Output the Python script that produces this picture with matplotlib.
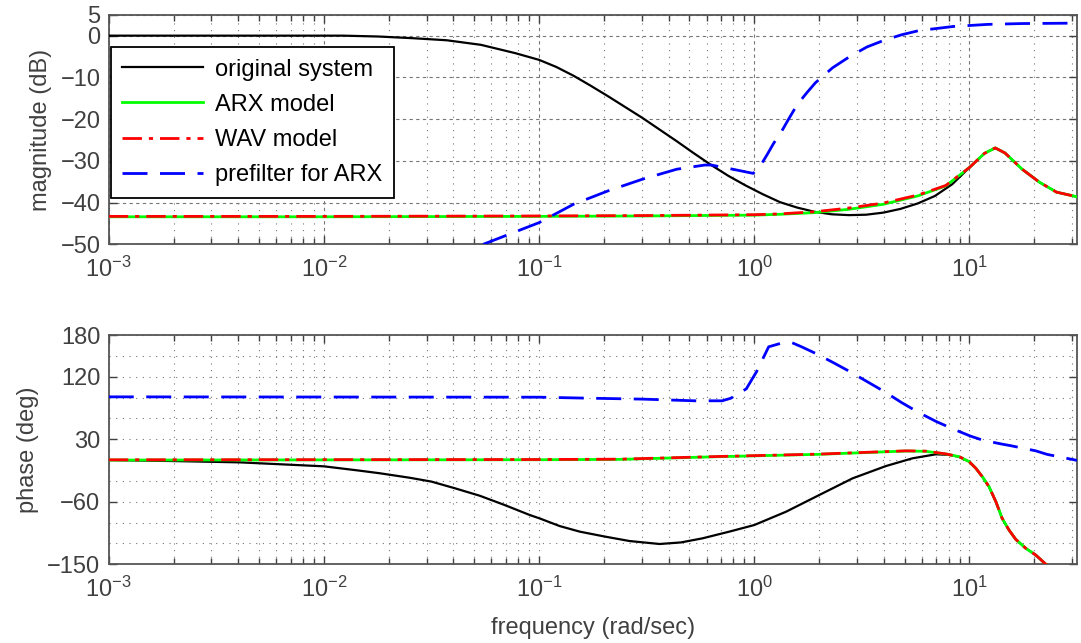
import matplotlib
matplotlib.use('Agg')
import matplotlib.pyplot as plt
from matplotlib.ticker import LogLocator, NullFormatter, MultipleLocator

plt.rcParams['font.family'] = ['Liberation Sans', 'DejaVu Sans']
plt.rcParams['mathtext.fontset'] = 'custom'
plt.rcParams['mathtext.rm'] = 'Liberation Sans'
plt.rcParams['mathtext.it'] = 'Liberation Sans'

# magnitude (dB) at log10(frequency)
orig_mag_f = [-3.0, -2.5, -1.91, -1.75, -1.59, -1.43, -1.27, -1.19, -1.11, -1.0, -0.92, -0.84, -0.76,
              -0.68, -0.6, -0.52, -0.44, -0.36, -0.28, -0.2, -0.12, -0.04, 0.04, 0.12, 0.2, 0.28,
              0.36, 0.44, 0.52, 0.6, 0.68, 0.76, 0.84, 0.92, 1.0, 1.07, 1.12, 1.165, 1.245, 1.325,
              1.405, 1.5]
orig_mag = [0.0, 0.0, 0.0, -0.2, -0.6, -1.1, -2.2, -3.2, -4.2, -5.8, -7.5, -9.6, -12.0,
            -14.5, -17.1, -19.7, -22.5, -25.3, -28.2, -31.0, -33.6, -35.9, -38.0, -39.9, -41.2, -42.2,
            -42.8, -43.0, -42.9, -42.4, -41.5, -40.2, -38.4, -35.6, -31.6, -28.2, -26.9, -28.1, -32.0, -35.1,
            -37.5, -38.6]

model_mag_f = [-3.0, -2.0, -1.0, -0.5, 0.0, 0.12, 0.28, 0.44, 0.6, 0.76, 0.89, 1.0, 1.07, 1.12, 1.165,
               1.245, 1.325, 1.405, 1.5]
arx_mag = [-43.4, -43.4, -43.3, -43.2, -43.0, -42.8, -42.4, -41.6, -40.4, -38.4, -36.0, -31.6, -28.2,
           -26.9, -28.1, -32.0, -35.1, -37.5, -38.6]
wav_mag = [-43.3, -43.3, -43.2, -43.1, -42.9, -42.7, -42.2, -41.3, -40.1, -38.2, -35.9, -31.6, -28.2,
           -26.9, -28.1, -32.0, -35.1, -37.5, -38.6]

pre_mag_f = [-1.26, -1.0, -0.84, -0.68, -0.52, -0.36, -0.23, -0.2, -0.1, -0.005, 0.027, 0.06, 0.09,
             0.123, 0.163, 0.2, 0.244, 0.284, 0.364, 0.444, 0.524, 0.604, 0.684, 0.764, 0.925, 1.085,
             1.245, 1.5]
pre_mag = [-50.0, -44.8, -40.4, -37.2, -34.4, -32.0, -31.0, -31.0, -32.0, -33.0, -31.3, -28.5, -25.8,
           -23.3, -19.7, -16.5, -13.7, -11.3, -7.7, -5.0, -2.7, -1.1, 0.2, 1.2, 2.2, 2.7,
           2.9, 3.0]

# phase (deg)
orig_ph_f = [-3.0, -2.7, -2.39, -2.0, -1.84, -1.74, -1.6, -1.5, -1.39, -1.276, -1.16, -1.044, -0.997,
             -0.904, -0.811, -0.696, -0.58, -0.44, -0.34, -0.24, -0.116, 0.0, 0.148, 0.302, 0.457,
             0.612, 0.735, 0.844, 0.906, 0.952, 0.999, 1.03, 1.06, 1.091, 1.123, 1.152, 1.184, 1.215,
             1.262, 1.308, 1.354, 1.5]
orig_ph = [0.0, -1.4, -3.3, -9.0, -15.0, -19.0, -25.5, -31.0, -40.7, -51.3, -64.7, -79.0, -84.0,
           -95.0, -103.0, -110.0, -116.5, -120.8, -118.5, -112.6, -103.0, -93.5, -74.3, -50.3, -26.3,
           -8.6, 2.5, 8.3, 7.5, 4.7, -2.3, -11.9, -23.9, -38.3, -59.9, -83.8, -100.7, -114.0,
           -127.0, -136.6, -149.6, -180.0]

model_ph_f = [-3.0, -1.0, -0.626, -0.162, 0.302, 0.705, 0.797, 0.89, 0.952, 0.999, 1.03, 1.06, 1.091,
              1.123, 1.152, 1.184, 1.215, 1.262, 1.308, 1.354, 1.5]
arx_ph = [0.0, 0.5, 1.0, 4.9, 8.3, 13.0, 12.6, 8.7, 4.9, -2.3, -11.9, -23.9, -38.3,
          -59.9, -83.8, -100.7, -114.0, -127.0, -136.6, -149.6, -180.0]
wav_ph = [0.4, 0.8, 1.3, 5.2, 8.6, 13.3, 12.9, 8.9, 5.0, -2.3, -11.9, -23.9, -38.3,
          -59.9, -83.8, -100.7, -114.0, -127.0, -136.6, -149.6, -180.0]

pre_ph_f = [-3.0, -1.0, -0.758, -0.518, -0.277, -0.149, -0.109, -0.037, 0.011, 0.067, 0.123, 0.171,
            0.22, 0.284, 0.364, 0.444, 0.524, 0.604, 0.684, 0.764, 0.845, 0.925, 1.005, 1.06, 1.149,
            1.192, 1.308, 1.361, 1.477, 1.5]
pre_ph = [91.0, 90.5, 89.0, 87.7, 85.3, 85.3, 89.0, 102.5, 127.4, 163.0, 168.0, 169.5,
          163.0, 153.7, 140.8, 127.4, 113.0, 98.7, 82.9, 68.5, 55.6, 44.6, 34.5, 28.8, 23.1,
          20.7, 13.3, 8.2, 1.0, -0.5]

mag_ticks = [-50, -40, -30, -20, -10, 0, 5]
ph_ticks = [-150, -60, 30, 120, 180]


def hz(lf):
    return [10 ** v for v in lf]


gray = '#404040'
fs = 17
fig = plt.figure(figsize=(10.81, 6.43), dpi=100)
ax1 = fig.add_axes([0.1006, 0.620, 0.8957, 0.357])
ax2 = fig.add_axes([0.1006, 0.1224, 0.8957, 0.3566])

dashdot = (0, (7, 2.5, 1.5, 2.5))
dash = (0, (9, 4.5))

ax1.plot(hz(orig_mag_f), orig_mag, color='k', lw=1.6, label='original system', zorder=3)
ax1.plot(hz(model_mag_f), arx_mag, color='#00ff00', lw=2.0, label='ARX model', zorder=4)
ax1.plot(hz(model_mag_f), wav_mag, color='#ff0000', lw=2.0, ls=dashdot, label='WAV model', zorder=5)
ax1.plot(hz(pre_mag_f), pre_mag, color='#0000ff', lw=2.0, ls=dash, label='prefilter for ARX', zorder=6)

ax2.plot(hz(orig_ph_f), orig_ph, color='k', lw=1.6, zorder=3)
ax2.plot(hz(model_ph_f), arx_ph, color='#00ff00', lw=2.0, zorder=4)
ax2.plot(hz(model_ph_f), wav_ph, color='#ff0000', lw=2.0, ls=dashdot, zorder=5)
ax2.plot(hz(pre_ph_f), pre_ph, color='#0000ff', lw=2.0, ls=dash, zorder=6)

for ax in (ax1, ax2):
    ax.set_xscale('log')
    ax.set_xlim(1e-3, 10 ** 1.5)
    ax.xaxis.set_major_locator(LogLocator(base=10, numticks=10))
    ax.xaxis.set_minor_locator(LogLocator(base=10, subs=range(2, 10), numticks=10))
    ax.xaxis.set_minor_formatter(NullFormatter())
    ax.tick_params(which='both', direction='in', top=True, right=True, colors=gray,
                   labelsize=fs, width=1.0)
    ax.tick_params(which='major', length=6)
    ax.tick_params(which='minor', length=4)
    ax.tick_params(axis='x', which='major', pad=9)
    ax.tick_params(axis='y', which='major', pad=6)
    for s in ax.spines.values():
        s.set_color('#555555')
        s.set_linewidth(1.3)
    ax.grid(True, which='minor', axis='x', ls=(0, (1, 5)), color='#777777', lw=0.8)

ax1.set_ylim(-50, 5)
ax1.set_yticks(mag_ticks)
ax1.grid(True, which='major', ls=(0, (3, 3)), color='#777777', lw=0.8)
ax1.set_ylabel('magnitude (dB)', fontsize=fs, color=gray, labelpad=6)

ax2.set_ylim(-150, 180)
ax2.set_yticks(ph_ticks)
ax2.yaxis.set_minor_locator(MultipleLocator(30))
ax2.tick_params(axis='y', which='minor', length=0)
ax2.grid(True, which='both', ls=(0, (1, 5)), color='#777777', lw=0.8)
ax2.set_ylabel('phase (deg)', fontsize=fs, color=gray, labelpad=6)
ax2.set_xlabel('frequency (rad/sec)', fontsize=fs, color=gray, labelpad=11)

leg = ax1.legend(loc='upper left', bbox_to_anchor=(0.002, 0.861), borderaxespad=0,
                 fontsize=fs, fancybox=False, framealpha=1, edgecolor='k',
                 handlelength=3.4, handletextpad=0.5, labelspacing=0.56,
                 borderpad=0.5)
leg.get_frame().set_linewidth(1.3)
leg.set_zorder(10)

fig.savefig('out.png', dpi=100)
